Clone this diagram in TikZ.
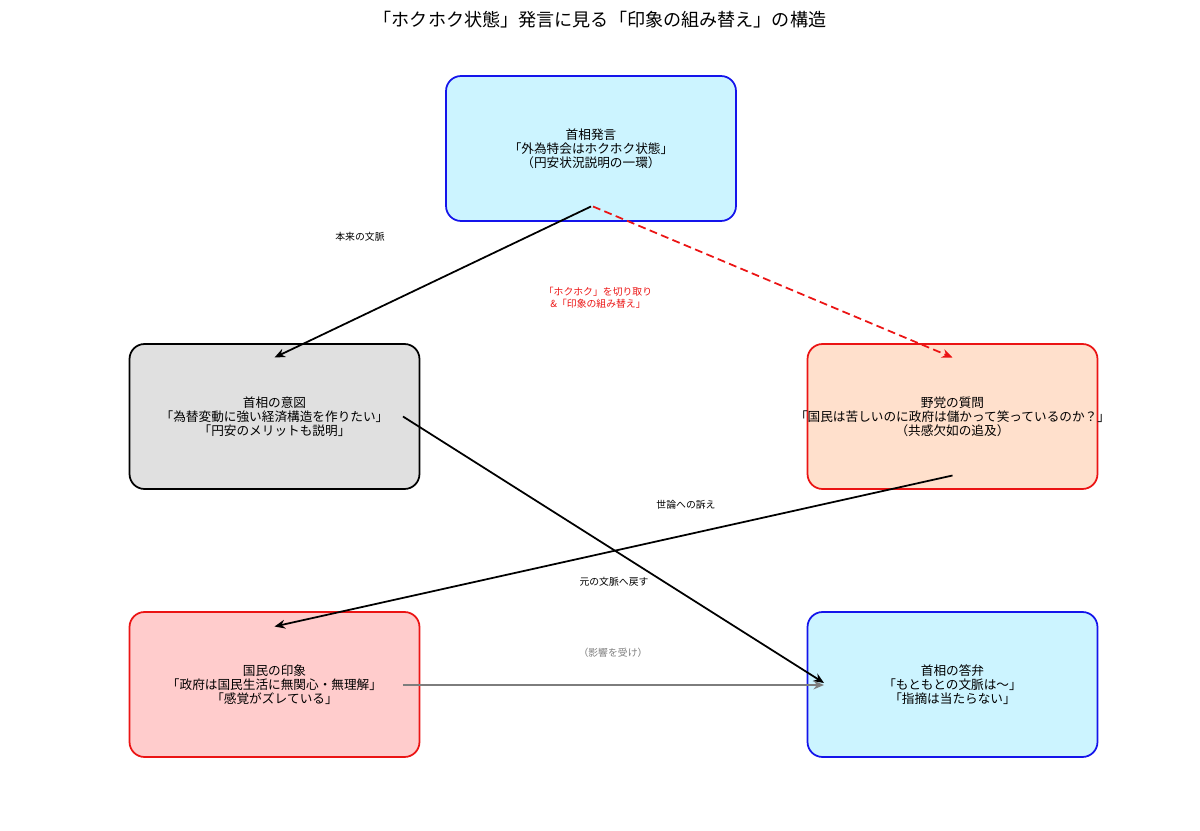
\documentclass[tikz,border=0pt]{standalone}
\usepackage{fontspec}
\setmainfont{Noto Sans CJK JP}
\usepackage{tikz}
\usetikzlibrary{calc,positioning,arrows.meta}
\definecolor{boxblue}{RGB}{204,244,255}
\definecolor{boxgray}{RGB}{224,224,224}
\definecolor{boxpeach}{RGB}{255,224,204}
\definecolor{boxpink}{RGB}{255,204,204}
\definecolor{lineblue}{RGB}{20,20,235}
\definecolor{linered}{RGB}{235,20,20}
\definecolor{linegray}{RGB}{125,125,125}
\tikzset{
	>={Stealth[length=6pt,width=5pt]},
	box/.style={draw, rounded corners=0.3cm, line width=1pt, minimum width=5.8cm,
		minimum height=2.9cm, align=center, font=\fontsize{7.2}{7.9}\selectfont},
	lbl/.style={font=\fontsize{5.6}{6.6}\selectfont, align=center},
	link/.style={->, line width=1pt},
}

\begin{document}
\begin{tikzpicture}[x=0.02cm, y=-0.02cm]
		\useasboundingbox (0,0) rectangle (1200,831);
		\node[font=\fontsize{10.3}{12}\selectfont] (title) at (600,20) {「ホクホク状態」発言に見る「印象の組み替え」の構造};

		\node[box, draw=lineblue, fill=boxblue] (pm) at (591,148.5) {首相発言\\「外為特会はホクホク状態」\\（円安状況説明の一環）};
		\node[box, draw=black, fill=boxgray] (intent) at (274.5,416.5) {首相の意図\\「為替変動に強い経済構造を作りたい」\\「円安のメリットも説明」};
		\node[box, draw=linered, fill=boxpeach] (question) at (952.5,416.5) {野党の質問\\\makebox[5cm][c]{「国民は苦しいのに政府は儲かって笑っているのか？」}\\（共感欠如の追及）};
		\node[box, draw=linered, fill=boxpink] (impression) at (274.5,684.5) {国民の印象\\「政府は国民生活に無関心・無理解」\\「感覚がズレている」};
		\node[box, draw=lineblue, fill=boxblue] (answer) at (952.5,684.5) {首相の答弁\\「もともとの文脈は～」\\「指摘は当たらない」};

		\draw[link] ([yshift=-1.16cm]pm.center) -- ([yshift=1.18cm]intent.center);
		\draw[link, linered, dash pattern=on 4.5pt off 2.5pt] ([xshift=0.04cm, yshift=-1.16cm]pm.center) -- ([yshift=1.18cm]question.center);
		\draw[link] ([xshift=2.57cm]intent.center) -- ([xshift=-2.57cm, yshift=0.03cm]answer.center);
		\draw[link] ([yshift=-1.18cm]question.center) -- ([yshift=1.16cm]impression.center);
		\draw[link, linegray, line width=1.1pt] ([xshift=2.57cm, yshift=-0.01cm]impression.center) -- ([xshift=-2.57cm, yshift=-0.01cm]answer.center);

		\node[lbl] (context) at (360,237) {本来の文脈};
		\node[lbl, text=linered] (cut) at (598,298) {「ホクホク」を切り取り\\\&「印象の組み替え」};
		\node[lbl] (appeal) at (686,505) {世論への訴え};
		\node[lbl] (back) at (614,582) {元の文脈へ戻す};
		\node[lbl, text=linegray] (effect) at (613,653) {（影響を受け）};
	\end{tikzpicture}
\end{document}
